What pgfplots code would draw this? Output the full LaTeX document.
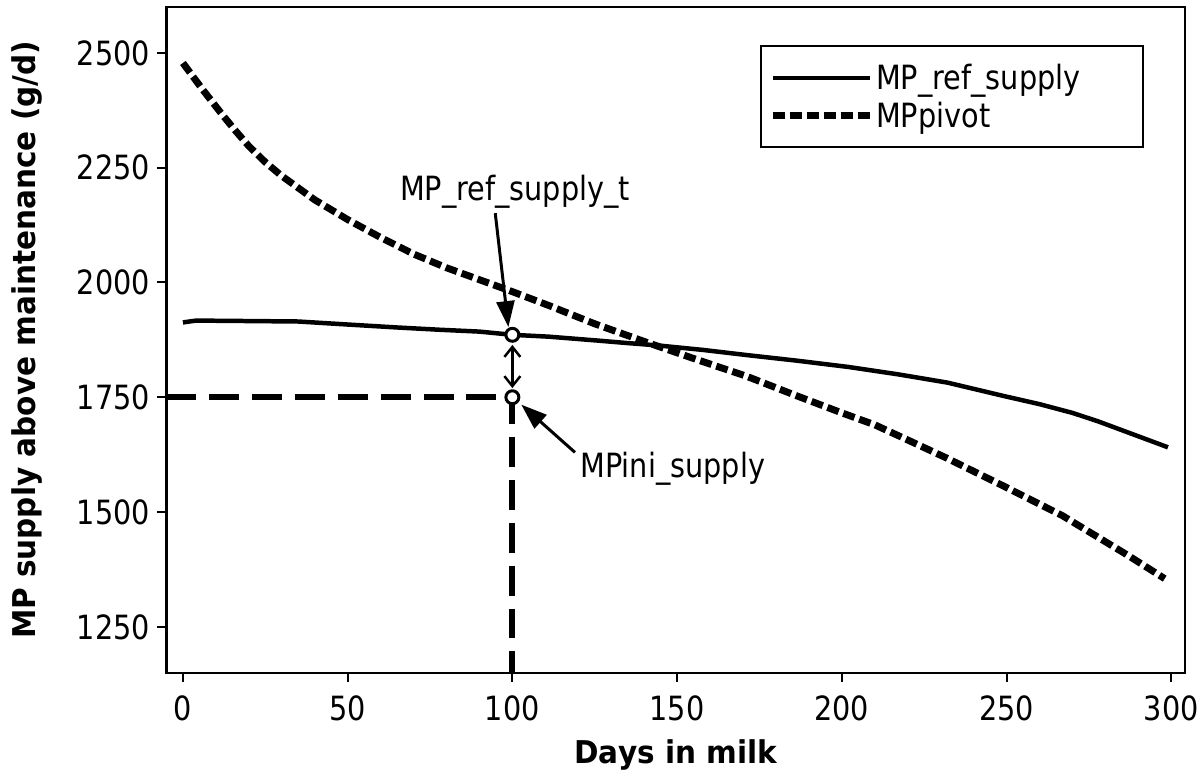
\documentclass[border=0pt]{standalone}
\usepackage{fontspec}
\setmainfont{DejaVu Sans}[FakeStretch=0.86]
\newfontfamily\labfamily{DejaVu Sans}[FakeStretch=0.94]
\usepackage{pgfplots}
\pgfplotsset{compat=1.18}
\usetikzlibrary{arrows.meta}

\newcommand\txtfont{\fontsize{33.5}{38}\selectfont}
\newcommand\labfont{\labfamily\bfseries\fontsize{31.5}{36}\selectfont}

\begin{document}
\begin{tikzpicture}
    \begin{axis}[
            ,scale only axis
            ,width          = 1022pt
            ,height         = 668pt
            ,xmin           = -5
            ,xmax           = 304.2
            ,ymin           = 1150
            ,ymax           = 2600
            ,xtick          = {0,50,...,300}
            ,ytick          = {1250,1500,...,2500}
            ,xtick pos      = bottom
            ,ytick pos      = left
            ,tick align     = outside
            ,major tick length = 9pt
            ,every tick/.style = {black, line width=2pt}
            ,axis line style = {line width=2.5pt}
            ,tick label style = {font=\txtfont}
            ,xticklabel style = {yshift=-10pt}
            ,yticklabel style = {xshift=-4pt}
            ,/pgf/number format/assume math mode = true
            ,/pgf/number format/1000 sep = {}
            ,xlabel         = {Days in milk}
            ,ylabel         = {MP supply above maintenance (g/d)}
            ,every axis x label/.style = {at={(axis description cs:0.5,0)}, anchor=north, yshift=-56.5pt, font=\labfont, inner sep=10.5pt}
            ,every axis y label/.style = {at={(axis description cs:0,0.5)}, rotate=90, anchor=south, yshift=114pt, font=\labfont, inner sep=10.5pt}
            ,legend cell align = left
            ,legend style   = {at={(axis description cs:1,1)}, anchor=north east,
                               xshift=-41pt, yshift=-38pt, draw=black, line width=2pt,
                               font=\txtfont, inner xsep=9pt, inner ysep=16pt, row sep=5pt,
                               nodes={inner xsep=3pt, inner ysep=2.75pt},
                               /tikz/every even column/.append style={column sep=17pt}}
            ,legend image code/.code = {\draw[#1] (0pt,0pt) -- (97pt,0pt);}
            ]
        % MP_ref_supply
        \addplot [black, line width=4.5pt, line join=round] coordinates {
            (0,1913) (4,1917) (20,1916) (35,1915) (51,1908) (65,1902) (78,1897)
            (90,1893) (100,1886) (111,1882) (125,1874) (135,1868) (144,1863)
            (158,1853) (171,1842) (186,1830) (202,1816) (217,1800) (232,1782)
            (249,1753) (260,1735) (270,1716) (278,1697) (287,1673) (299,1641)
        };
        \addlegendentry{\makebox[256pt][l]{MP\_ref\_supply}}
        % MPpivot
        \addplot [black, line width=7pt, dash pattern=on 12pt off 5pt, line join=round] coordinates {
            (0,2478) (6,2420) (12,2365) (16,2330) (20,2297) (25,2262) (30,2232)
            (40,2180) (50,2137) (60,2098) (70,2062) (80,2032) (90,2006)
            (100,1980) (111,1950) (125,1910) (141,1869) (156,1832) (171,1796)
            (186,1754) (200,1716) (210,1690) (220,1657) (232,1617) (249,1557)
            (267,1492) (287,1405) (298,1355)
        };
        \addlegendentry{MPpivot}
        % reference lines to MPini_supply
        \addplot [forget plot, black, line width=6pt, dash pattern=on 30pt off 13pt]
            coordinates {(-5,1750) (100,1750) (100,1150)};
        % annotations
        \draw [line width=3pt, -{Triangle[length=26pt, width=18pt]}]
            (axis cs:94.8,2151) -- (axis cs:98.8,1903);
        \draw [line width=3pt, -{Triangle[length=26pt, width=18pt]}]
            (axis cs:119,1630) -- (axis cs:102.7,1734);
        \draw [line width=2.5pt, {Straight Barb[length=10pt, width=16pt]}-{Straight Barb[length=10pt, width=16pt]}]
            (axis cs:100,1864) -- (axis cs:100,1770);
        \addplot [forget plot, only marks, mark=*, mark size=6.5pt,
                  mark options={fill=white, draw=black, line width=3pt}]
            coordinates {(100,1886) (100,1750)};
        \node [font=\txtfont, anchor=base, inner sep=0pt] at (axis cs:100.8,2179.5) {MP\_ref\_supply\_t};
        \node [font=\txtfont, anchor=base west, inner sep=0pt] at (axis cs:120.6,1576) {MPini\_supply};
        \coordinate (O) at (rel axis cs:0,0);
    \end{axis}
    \path (O) ++(-167pt,-99pt) rectangle ++(1202pt,774pt);
\end{tikzpicture}
\end{document}
